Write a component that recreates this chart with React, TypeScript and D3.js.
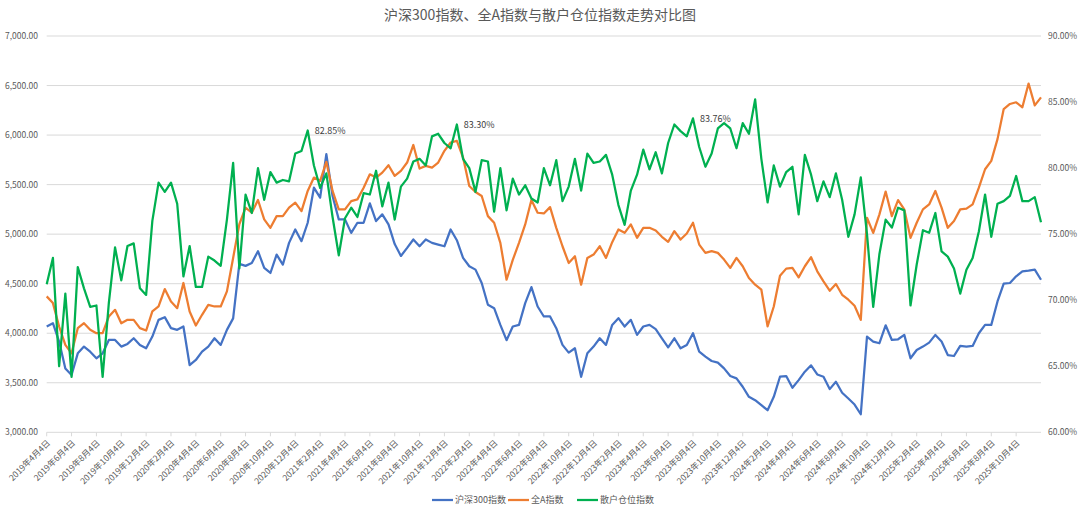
import React from "react";
import * as d3 from "d3";

// semi-monthly samples, 2019-04-04 .. 2025-11
const hs300 = [
  4068, 4101, 3916, 3645, 3578, 3797, 3865, 3814, 3747, 3797, 3932, 3932, 3865, 3892, 3949, 3882, 3848, 3966, 4135, 4162,
  4051, 4034, 4068, 3679, 3730, 3814, 3865, 3949, 3882, 4034, 4150, 4700, 4680, 4709, 4828, 4660, 4608, 4794, 4692, 4912,
  5047, 4929, 5115, 5469, 5368, 5807, 5385, 5149, 5149, 5013, 5115, 5115, 5311, 5132, 5200, 5098, 4900, 4780, 4861, 4946,
  4878, 4946, 4912, 4895, 4878, 5047, 4939, 4760, 4676, 4642, 4507, 4287, 4253, 4084, 3930, 4068, 4084, 4304, 4466, 4270,
  4169, 4169, 4051, 3882, 3804, 3848, 3560, 3797, 3865, 3949, 3882, 4084, 4152, 4068, 4135, 3983, 4068, 4084, 4041, 3949,
  3858, 3949, 3848, 3882, 4000, 3814, 3764, 3720, 3703, 3645, 3568, 3544, 3460, 3358, 3324, 3274, 3223, 3358, 3561, 3568,
  3450, 3527, 3612, 3676, 3584, 3561, 3436, 3510, 3399, 3341, 3280, 3182, 3966, 3916, 3899, 4080, 3932, 3939, 3983, 3747,
  3831, 3865, 3905, 3983, 3916, 3780, 3770, 3872, 3865, 3872, 4000, 4084, 4084, 4321, 4500, 4507, 4574, 4625, 4632, 4642,
  4540,
];

const allA = [
  4372, 4304, 4068, 3882, 3797, 4051, 4101, 4034, 4000, 4000, 4169, 4236, 4101, 4135, 4135, 4051, 4027, 4220, 4270, 4446,
  4321, 4253, 4507, 4220, 4078, 4186, 4287, 4270, 4270, 4422, 4760, 5100, 5267, 5216, 5345, 5149, 5064, 5182, 5182, 5267,
  5318, 5233, 5436, 5571, 5537, 5730, 5436, 5250, 5250, 5334, 5351, 5469, 5604, 5571, 5621, 5696, 5588, 5638, 5723, 5900,
  5662, 5689, 5672, 5723, 5841, 5925, 5942, 5773, 5486, 5425, 5385, 5182, 5115, 4912, 4540, 4740, 4912, 5098, 5345, 5216,
  5209, 5273, 5064, 4878, 4709, 4777, 4490, 4760, 4794, 4878, 4760, 4919, 5047, 5013, 5098, 4963, 5064, 5064, 5037, 4973,
  4922, 5030, 4946, 5007, 5115, 4895, 4811, 4828, 4811, 4743, 4659, 4760, 4676, 4557, 4490, 4439, 4070, 4270, 4581, 4652,
  4659, 4564, 4676, 4767, 4625, 4524, 4429, 4497, 4388, 4338, 4277, 4135, 5165, 5013, 5200, 5430, 5182, 5344, 5250, 4963,
  5115, 5250, 5300, 5436, 5267, 5064, 5132, 5250, 5257, 5300, 5469, 5655, 5740, 5959, 6263, 6314, 6331, 6280, 6520, 6300,
  6380,
];

const retail = [
  71.2, 73.2, 65.0, 70.5, 64.2, 72.5, 70.9, 69.5, 69.6, 64.2, 69.8, 74.0, 71.5, 74.1, 74.3, 70.9, 70.4, 76.0, 78.9, 78.2,
  78.9, 77.3, 71.8, 74.1, 71.0, 71.0, 73.3, 73.0, 72.6, 76.1, 80.4, 72.4, 78.0, 76.6, 80.0, 77.6, 79.7, 78.9, 79.1, 79.0,
  81.1, 81.3, 82.85, 80.2, 78.5, 79.6, 76.3, 73.4, 76.2, 77.0, 76.3, 78.1, 78.0, 79.8, 77.1, 78.9, 76.1, 78.6, 79.2, 80.5,
  80.7, 80.2, 82.4, 82.6, 81.9, 81.5, 83.3, 80.7, 80.0, 78.2, 80.6, 80.5, 76.7, 80.0, 76.8, 79.2, 78.0, 78.7, 77.7, 77.4,
  80.0, 78.7, 80.6, 77.5, 78.6, 80.7, 78.3, 81.1, 80.4, 80.5, 81.0, 79.5, 77.2, 75.7, 78.3, 79.5, 81.4, 79.9, 81.2, 79.6,
  81.9, 83.3, 82.8, 82.4, 83.76, 81.6, 80.1, 81.1, 83.0, 83.4, 83.0, 81.5, 83.4, 82.6, 85.2, 80.7, 77.4, 80.2, 78.6, 79.7,
  80.1, 76.5, 81.0, 79.5, 77.5, 79.0, 77.8, 79.6, 77.6, 74.8, 76.5, 79.3, 75.0, 69.5, 73.5, 76.1, 75.5, 77.0, 76.8, 69.6,
  72.7, 75.3, 75.1, 76.6, 73.7, 73.3, 72.4, 70.5, 72.3, 73.2, 75.2, 78.0, 74.8, 77.3, 77.5, 77.9, 79.4, 77.5, 77.5, 77.8,
  75.9,
];

// points of the retail series carrying a data label
const labelIdx = [42, 66, 104];

const tickLabels = [
  "2019年4月4日", "2019年6月4日", "2019年8月4日", "2019年10月4日", "2019年12月4日",
  "2020年2月4日", "2020年4月4日", "2020年6月4日", "2020年8月4日", "2020年10月4日", "2020年12月4日",
  "2021年2月4日", "2021年4月4日", "2021年6月4日", "2021年8月4日", "2021年10月4日", "2021年12月4日",
  "2022年2月4日", "2022年4月4日", "2022年6月4日", "2022年8月4日", "2022年10月4日", "2022年12月4日",
  "2023年2月4日", "2023年4月4日", "2023年6月4日", "2023年8月4日", "2023年10月4日", "2023年12月4日",
  "2024年2月4日", "2024年4月4日", "2024年6月4日", "2024年8月4日", "2024年10月4日", "2024年12月4日",
  "2025年2月4日", "2025年4月4日", "2025年6月4日", "2025年8月4日", "2025年10月4日",
];

const leftTicks = [3000, 3500, 4000, 4500, 5000, 5500, 6000, 6500, 7000];
const rightTicks = [60, 65, 70, 75, 80, 85, 90];

const seriesNames = ["沪深300指数", "全A指数", "散户仓位指数"];
const colors = ["#4472C4", "#ED7D31", "#00B050"];

const W = 1080;
const H = 513;
const margin = { left: 46.7, right: 1041, top: 36, bottom: 432.3 };
const font = "'Noto Sans CJK SC', 'Noto Sans', sans-serif";

const App = () => {
  const x = d3.scaleLinear().domain([0, hs300.length - 1]).range([margin.left, margin.right]);
  const yL = d3.scaleLinear().domain([3000, 7000]).range([margin.bottom, margin.top]);
  const yR = d3.scaleLinear().domain([60, 90]).range([margin.bottom, margin.top]);

  const lineL = d3.line<number>().x((_, i) => x(i)).y((d) => yL(d));
  const lineR = d3.line<number>().x((_, i) => x(i)).y((d) => yR(d));
  const fmtL = d3.format(",.2f");
  const fmtR = (v: number) => v.toFixed(2) + "%";

  const legendX = [432, 508, 577];

  return (
    <svg width={W} height={H} style={{ position: "absolute", left: 0, top: 0, background: "#fff" }} fontFamily={font}>
      <text x={540} y={20} textAnchor="middle" fontSize={14} fill="#595959">
        沪深300指数、全A指数与散户仓位指数走势对比图
      </text>

      {leftTicks.map((t) => (
        <g key={t}>
          <line x1={margin.left} x2={margin.right} y1={yL(t)} y2={yL(t)} stroke="#d9d9d9" strokeWidth={1} />
          <text x={38} y={yL(t)} dy="0.35em" textAnchor="end" fontSize={8.5} fill="#595959">
            {fmtL(t)}
          </text>
        </g>
      ))}
      {rightTicks.map((t) => (
        <text key={t} x={1048} y={yR(t)} dy="0.35em" fontSize={8.5} fill="#595959">
          {fmtR(t)}
        </text>
      ))}

      {tickLabels.map((lab, k) => {
        const tx = x(k * 4);
        return (
          <g key={lab}>
            <line x1={tx} x2={tx} y1={margin.bottom} y2={margin.bottom + 4} stroke="#d9d9d9" />
            <text
              transform={`translate(${tx + 2},${margin.bottom + 9}) rotate(-45)`}
              textAnchor="end"
              dy="0.35em"
              fontSize={8.5}
              fill="#595959"
            >
              {lab}
            </text>
          </g>
        );
      })}

      <path d={lineL(hs300) ?? ""} fill="none" stroke={colors[0]} strokeWidth={2.25} strokeLinejoin="round" />
      <path d={lineL(allA) ?? ""} fill="none" stroke={colors[1]} strokeWidth={2.25} strokeLinejoin="round" />
      <path d={lineR(retail) ?? ""} fill="none" stroke={colors[2]} strokeWidth={2.25} strokeLinejoin="round" />

      {labelIdx.map((i) => (
        <text key={i} x={x(i) + 7} y={yR(retail[i])} dy="0.35em" fontSize={9} fill="#404040">
          {fmtR(retail[i])}
        </text>
      ))}

      {seriesNames.map((name, k) => (
        <g key={name}>
          <line x1={legendX[k]} x2={legendX[k] + 21} y1={500} y2={500} stroke={colors[k]} strokeWidth={2.25} />
          <text x={legendX[k] + 23} y={500} dy="0.35em" fontSize={9} fill="#595959">
            {name}
          </text>
        </g>
      ))}
    </svg>
  );
};

export default App;
